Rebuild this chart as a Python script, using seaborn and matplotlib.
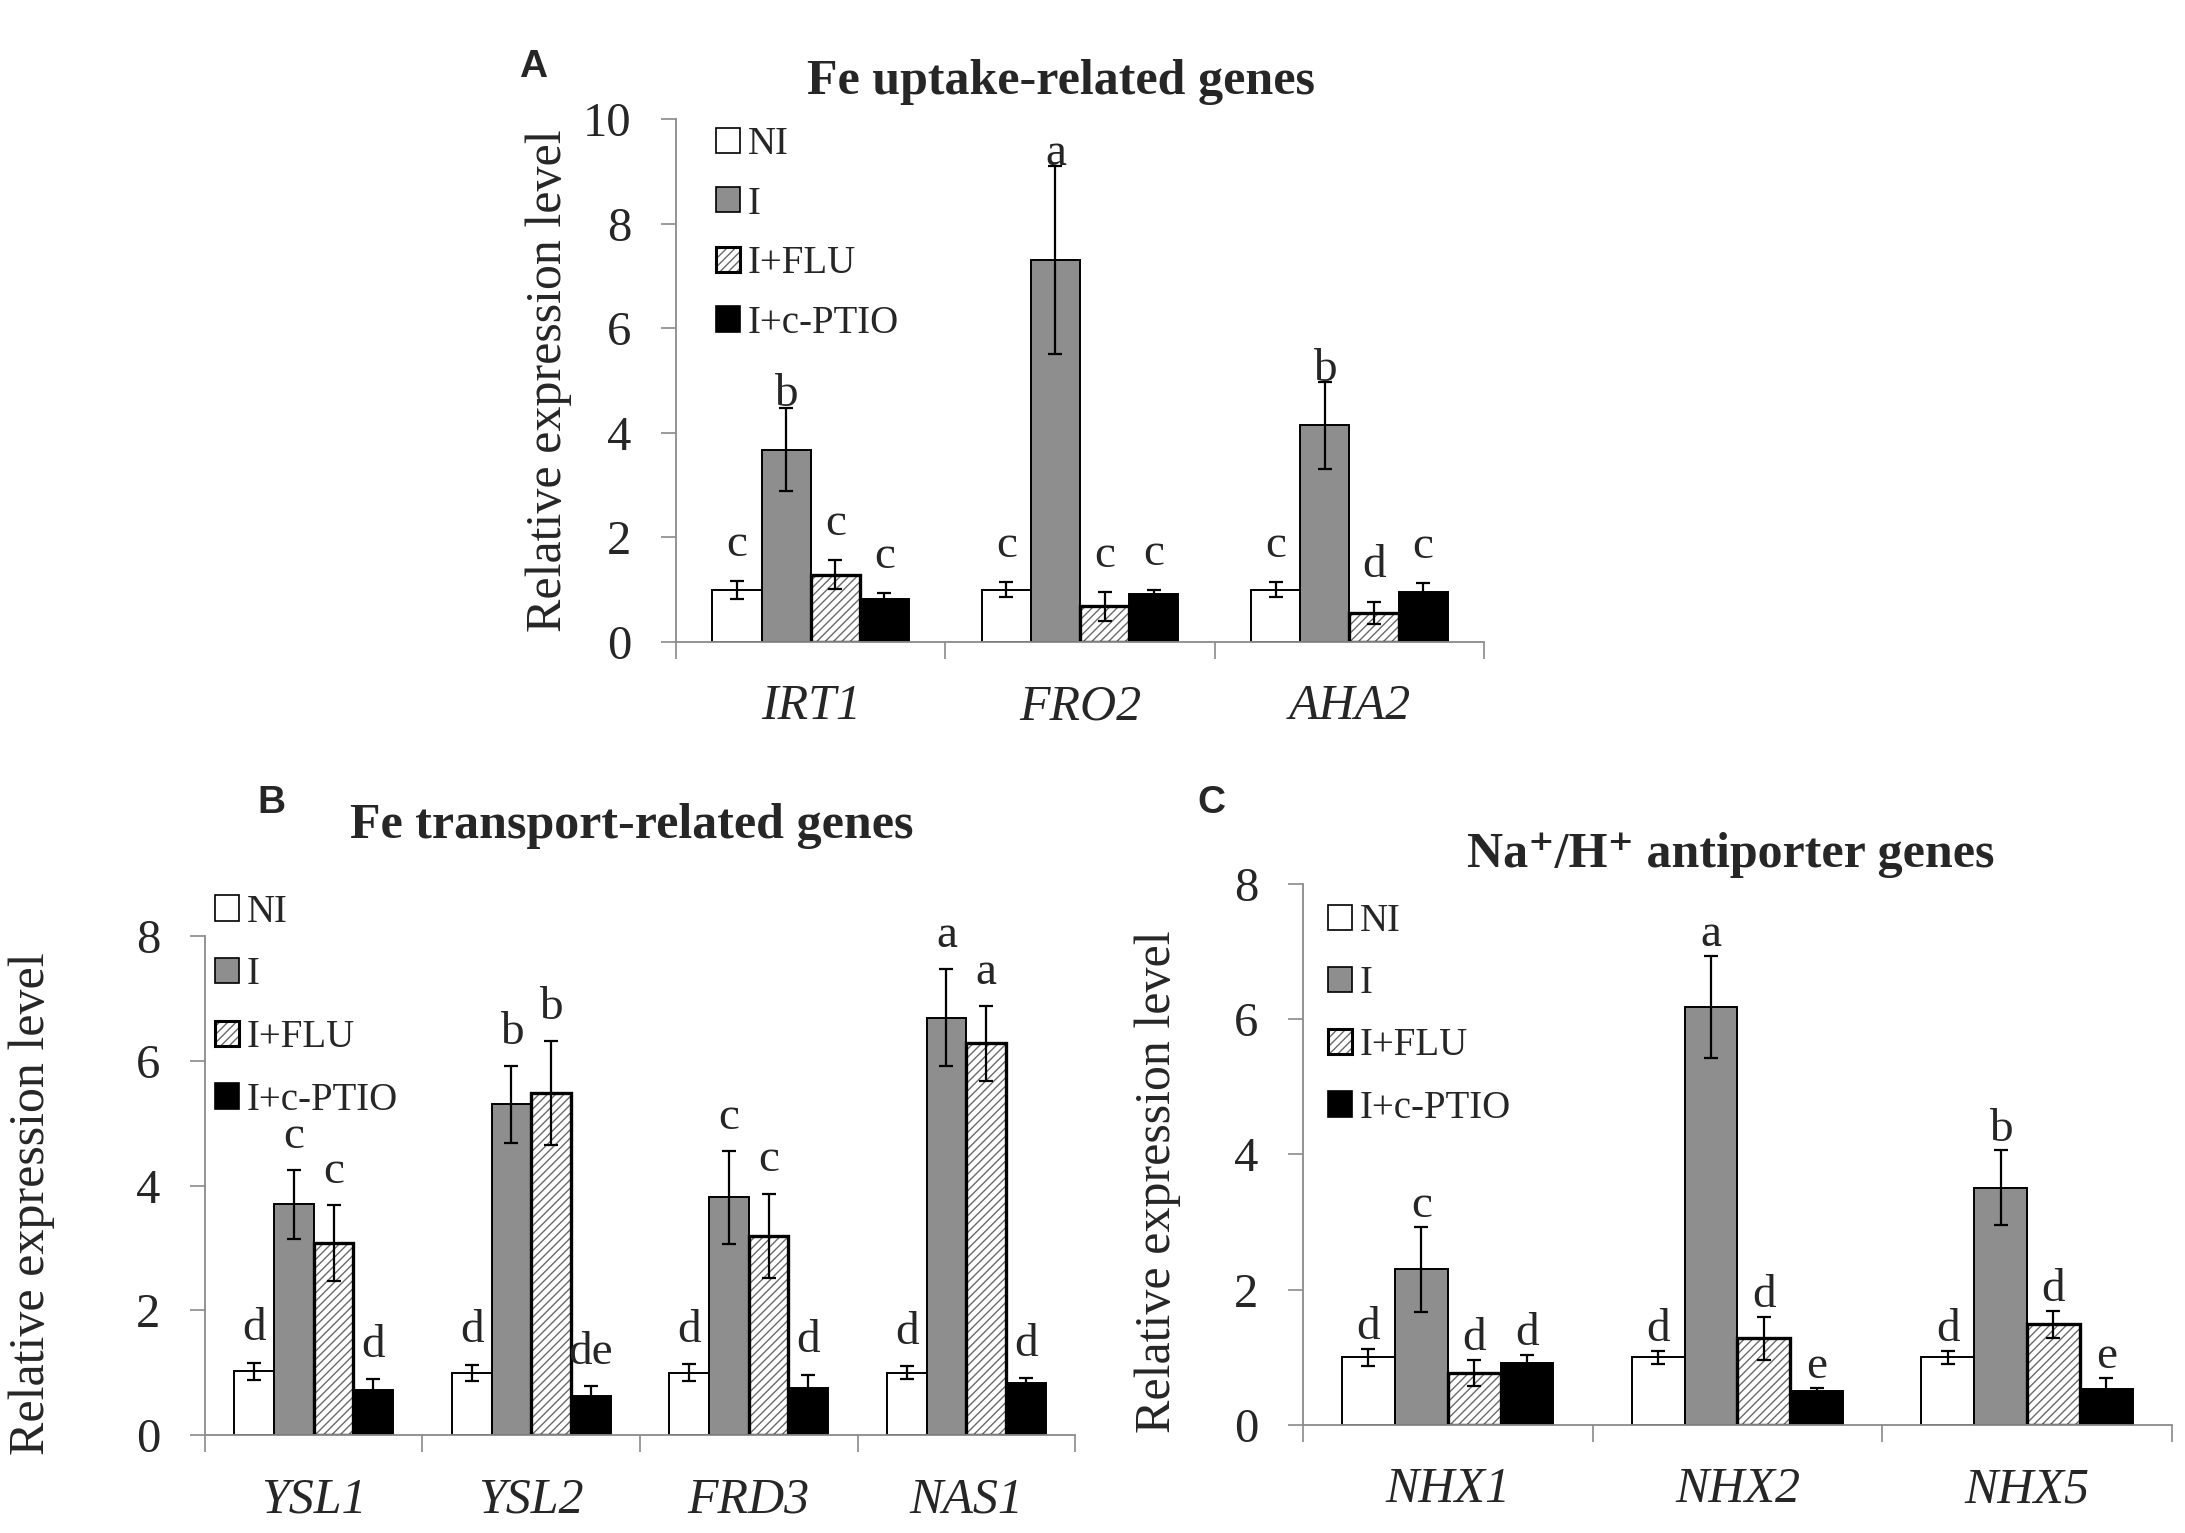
import matplotlib.pyplot as plt
import matplotlib.patches as mpatches
import pandas as pd
import seaborn as sns

treatments = ["NI", "I", "I+FLU", "I+c-PTIO"]
bar_colors = {"NI": "white", "I": "#8e8e8e", "I+FLU": "white", "I+c-PTIO": "black"}

# Panel A - Fe uptake-related genes (rows follow treatments)
genes_a = ["IRT1", "FRO2", "AHA2"]
mean_a = [[1.0, 1.0, 1.0], [3.68, 7.30, 4.14], [1.29, 0.68, 0.56], [0.83, 0.91, 0.96]]
err_a = [[0.17, 0.14, 0.14], [0.80, 1.80, 0.83], [0.28, 0.28, 0.21], [0.11, 0.09, 0.16]]
let_a = [["c", "c", "c"], ["b", "a", "b"], ["c", "c", "d"], ["c", "c", "c"]]

# Panel B - Fe transport-related genes
genes_b = ["YSL1", "YSL2", "FRD3", "NAS1"]
mean_b = [[1.02, 1.0, 1.0, 1.0], [3.70, 5.30, 3.81, 6.69],
          [3.08, 5.48, 3.19, 6.28], [0.73, 0.62, 0.76, 0.84]]
err_b = [[0.14, 0.13, 0.14, 0.10], [0.55, 0.62, 0.74, 0.78],
         [0.61, 0.83, 0.68, 0.60], [0.17, 0.17, 0.21, 0.07]]
let_b = [["d", "d", "d", "d"], ["c", "b", "c", "a"], ["c", "b", "c", "a"], ["d", "de", "d", "d"]]

# Panel C - Na+/H+ antiporter genes
genes_c = ["NHX1", "NHX2", "NHX5"]
mean_c = [[1.0, 1.0, 1.0], [2.30, 6.18, 3.51], [0.77, 1.28, 1.49], [0.91, 0.50, 0.53]]
err_c = [[0.13, 0.10, 0.10], [0.63, 0.76, 0.55], [0.19, 0.32, 0.20], [0.13, 0.05, 0.17]]
let_c = [["d", "d", "d"], ["c", "a", "b"], ["d", "d", "d"], ["d", "e", "e"]]

sns.set_style("ticks")
plt.rcParams["font.family"] = ["Liberation Serif", "DejaVu Serif"]
plt.rcParams["hatch.linewidth"] = 1.0

AXIS_GRAY = "#8a8a8a"


def draw_panel(ax, genes, means, errs, letters, ymax, gaps):
    rows = [(g, t, means[i][j]) for i, t in enumerate(treatments) for j, g in enumerate(genes)]
    df = pd.DataFrame(rows, columns=["gene", "treatment", "value"])
    sns.barplot(data=df, x="gene", y="value", hue="treatment", order=genes,
                hue_order=treatments, palette=bar_colors, saturation=1, width=0.73,
                edgecolor="black", linewidth=1.4, errorbar=None, legend=False, ax=ax)
    bar_groups = list(ax.containers)

    # hatched bars: gray hatch, black outline on top
    for bar in bar_groups[2]:
        bar.set_hatch("////")
        bar.set_edgecolor("#6a6a6a")
        bar.set_linewidth(0)
        ax.add_patch(mpatches.Rectangle(bar.get_xy(), bar.get_width(), bar.get_height(),
                                        fill=False, ec="black", lw=2.4, zorder=bar.get_zorder() + 0.1))

    for i, cont in enumerate(bar_groups):
        xs = [b.get_x() + b.get_width() / 2 for b in cont]
        ax.errorbar(xs, means[i], yerr=errs[i], fmt="none", ecolor="black",
                    elinewidth=1.6, capsize=5, capthick=1.6, zorder=4)
        for j, x in enumerate(xs):
            ax.annotate(letters[i][j], (x, means[i][j] + errs[i][j]), xytext=(0, gaps[i]),
                        textcoords="offset points", ha="center", va="baseline", fontsize=34)

    n = len(genes)
    ax.set_xlim(-0.5, n - 0.5)
    ax.set_ylim(0, ymax)
    ax.set_yticks(range(0, ymax + 1, 2))
    ax.set_xticks([k - 0.5 for k in range(n + 1)])
    ax.set_xticklabels([])
    ax.set_xticks(range(n), minor=True)
    ax.set_xticklabels(genes, minor=True, fontstyle="italic", fontsize=36)
    ax.tick_params(axis="x", which="major", length=12, width=1.2, color=AXIS_GRAY)
    ax.tick_params(axis="x", which="minor", length=0, pad=30)
    ax.tick_params(axis="y", length=11, width=1.2, color=AXIS_GRAY, labelsize=35, pad=21)
    ax.set_xlabel("")
    ax.set_ylabel("Relative expression level", fontsize=36)
    ax.yaxis.label.set_va("center")
    sns.despine(ax=ax)
    for side in ["left", "bottom"]:
        ax.spines[side].set_color(AXIS_GRAY)
        ax.spines[side].set_linewidth(1.3)


def add_legend(fig, anchor, spacing):
    handles = [
        mpatches.Patch(facecolor="white", edgecolor="black", lw=1.2),
        mpatches.Patch(facecolor=bar_colors["I"], edgecolor="black", lw=1.2),
        (mpatches.Patch(facecolor="white", edgecolor="#6a6a6a", hatch="////", lw=0),
         mpatches.Patch(fill=False, edgecolor="black", lw=2.2)),
        mpatches.Patch(facecolor="black", edgecolor="black", lw=1.2),
    ]
    fig.legend(handles, treatments, loc="upper left", bbox_to_anchor=anchor, frameon=False,
               fontsize=28, handlelength=0.62, handleheight=0.62, handletextpad=0.2,
               labelspacing=spacing, borderpad=0, borderaxespad=0)


fig = plt.figure(figsize=(21.85, 15.33), dpi=100)
ax_a = fig.add_axes([0.3094, 0.5812, 0.3698, 0.3412])
ax_b = fig.add_axes([0.0938, 0.0639, 0.3982, 0.3255])
ax_c = fig.add_axes([0.5963, 0.0705, 0.3977, 0.3529])

draw_panel(ax_a, genes_a, mean_a, err_a, let_a, 10, [18, 1, 18, 18])
draw_panel(ax_b, genes_b, mean_b, err_b, let_b, 8, [16, 16, 16, 16])
draw_panel(ax_c, genes_c, mean_c, err_c, let_c, 8, [7, 7, 7, 7])

ax_a.yaxis.set_label_coords(-0.158, 0.5)
ax_b.yaxis.set_label_coords(-0.199, 0.464)
ax_c.yaxis.set_label_coords(-0.167, 0.45)

fig.text(0.4856, 0.9387, "Fe uptake-related genes", ha="center", va="baseline",
         fontsize=36, fontweight="bold")
fig.text(0.2892, 0.4534, "Fe transport-related genes", ha="center", va="baseline",
         fontsize=36, fontweight="bold")
fig.text(0.7922, 0.4344, "Na\u207a/H\u207a antiporter genes", ha="center", va="baseline",
         fontsize=36, fontweight="bold")

for letter, x, y in [("A", 0.2439, 0.9563), ("B", 0.124, 0.4762), ("C", 0.5542, 0.4762)]:
    fig.text(x, y, letter, ha="center", va="center", fontsize=28, fontweight="bold",
             family=["Liberation Sans", "DejaVu Sans"])

add_legend(fig, (0.3277, 0.9178), 0.58)
add_legend(fig, (0.0984, 0.4170), 0.66)
add_legend(fig, (0.6078, 0.4110), 0.65)

fig.savefig("out.png", dpi=100, facecolor="white")
